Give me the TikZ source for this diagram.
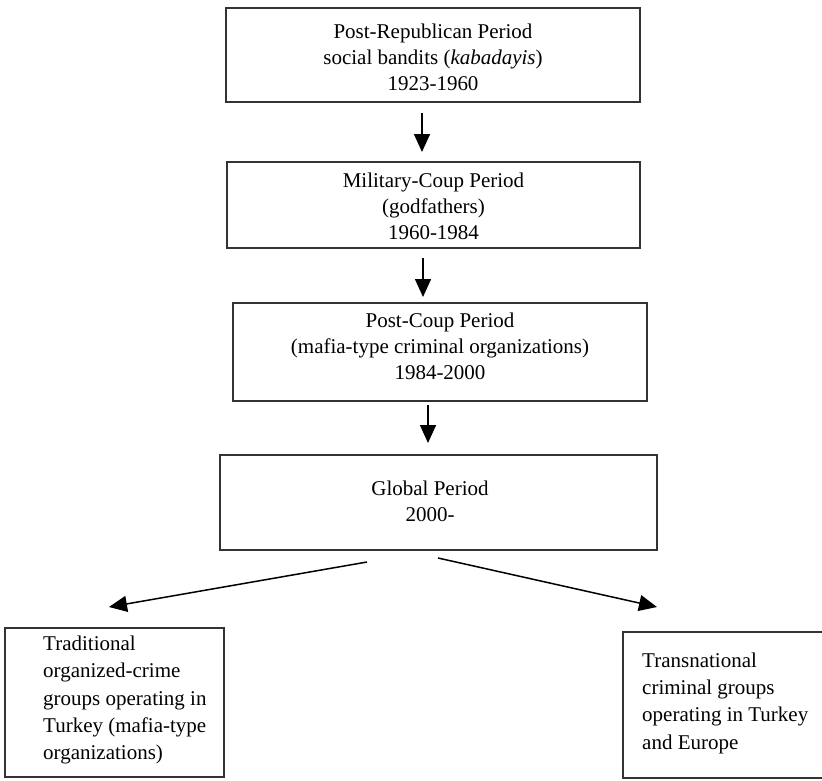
\documentclass[tikz,border=0pt]{standalone}
\usepackage{fontspec}
\setmainfont{Liberation Serif}
\usetikzlibrary{arrows.meta,calc}
\begin{document}
\begin{tikzpicture}[x=1pt,y=-1pt,
  box/.style={draw=black!80,line width=1.8pt,inner sep=0pt},
  txt/.style={font=\fontsize{21}{26}\selectfont,align=center,inner sep=0pt},
  ltxt/.style={font=\fontsize{21}{27.3}\selectfont,align=left,inner sep=0pt,anchor=west},
  arr/.style={line width=1.5pt,-{Triangle[length=18pt,width=16pt]}}]
\useasboundingbox[fill=white] (0,0) rectangle (822,780);
\node[box,minimum width=414pt,minimum height=94pt] (b1) at (433,55) {};
\node[txt] (t1) at (433,57) {Post-Republican Period\\social bandits (\textit{kabadayis})\\1923-1960};
\node[box,minimum width=413pt,minimum height=86pt] (b2) at (433.5,205) {};
\node[txt] (t2) at (433.5,206) {Military-Coup Period\\(godfathers)\\1960-1984};
\node[box,minimum width=414pt,minimum height=98pt] (b3) at (440,352) {};
\node[txt] (t3) at (440,346) {Post-Coup Period\\(mafia-type criminal organizations)\\1984-2000};
\node[box,minimum width=437pt,minimum height=95pt] (b4) at (438.5,502.5) {};
\node[txt] (t4) at (430,501) {Global Period\\2000-};
\node[box,minimum width=219pt,minimum height=149pt] (b5) at (114.5,702.5) {};
\node[ltxt] (t5) at (43,700) {Traditional\\organized-crime\\groups operating in\\Turkey (mafia-type\\organizations)};
\node[box,minimum width=202pt,minimum height=146pt] (b6) at (724,705) {};
\node[ltxt] (t6) at (642,703) {Transnational\\criminal groups\\operating in Turkey\\and Europe};
\coordinate (a1s) at (422,113); \coordinate (a1e) at (422,152);
\coordinate (a2s) at (423,258); \coordinate (a2e) at (423,297);
\coordinate (a3s) at (428,405); \coordinate (a3e) at (428,443);
\coordinate (l1s) at (367,562); \coordinate (l1e) at (109,607);
\coordinate (r1s) at (438,558); \coordinate (r1e) at (657,607);
\draw[arr] (a1s) -- (a1e);
\draw[arr] (a2s) -- (a2e);
\draw[arr] (a3s) -- (a3e);
\draw[arr] (l1s) -- (l1e);
\draw[arr] (r1s) -- (r1e);
\end{tikzpicture}
\end{document}
